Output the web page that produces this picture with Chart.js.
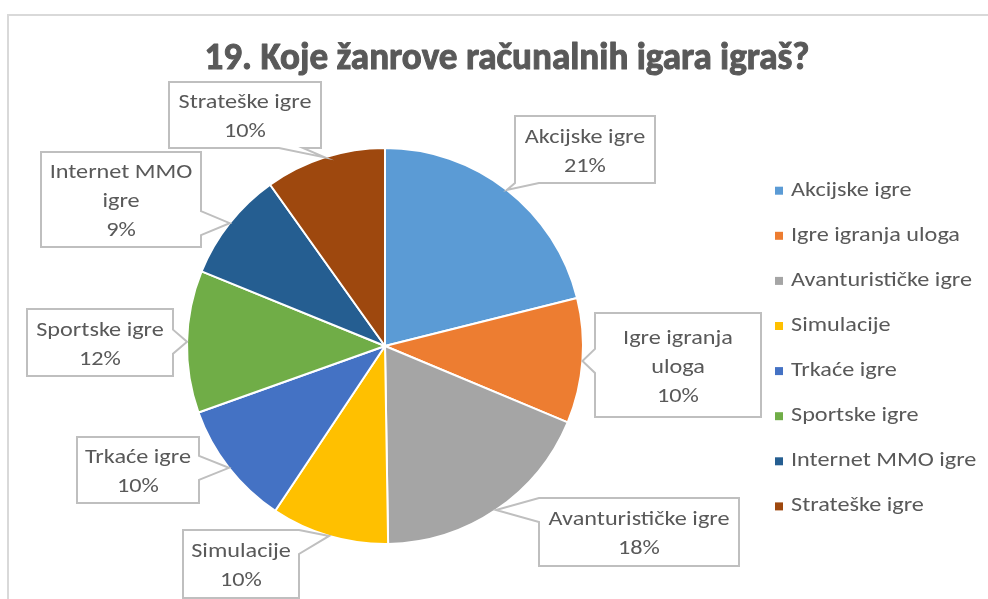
<!DOCTYPE html>
<html>
<head>
<meta charset="utf-8">
<script src="https://cdn.jsdelivr.net/npm/chart.js@4.4.1/dist/chart.umd.min.js"></script>
<style>
  html, body { margin: 0; padding: 0; background: #fff; }
  #wrap { width: 988px; height: 599px; position: relative; }
</style>
</head>
<body>
<div id="wrap"><canvas id="chart" width="988" height="599"></canvas></div>
<script>
// data
const chartTitle = '19. Koje žanrove računalnih igara igraš?';
const categories = ['Akcijske igre', 'Igre igranja uloga', 'Avanturističke igre', 'Simulacije',
                    'Trkaće igre', 'Sportske igre', 'Internet MMO igre', 'Strateške igre'];
const values = [21.1, 10.2, 18.45, 9.6, 10.2, 11.6, 9.0, 9.85];
const colors = ['#5B9BD5', '#ED7D31', '#A5A5A5', '#FFC000', '#4472C4', '#70AD47', '#255E91', '#9E480E'];
// how the callout text wraps inside each box
const calloutText = ['Akcijske igre', 'Igre igranja\nuloga', 'Avanturističke igre', 'Simulacije',
                     'Trkaće igre', 'Sportske igre', 'Internet MMO\nigre', 'Strateške igre'];
// callout boxes: x, y, w, h
const calloutBoxes = [
    [515, 116, 140, 67], [595, 313, 166, 104], [539, 498, 200, 68], [183, 530, 116, 68],
    [77, 437, 122, 66], [27, 309, 146, 67], [41, 152, 160, 95], [169, 82, 152, 66]
];

const FONT = 'Carlito, Lato, "Liberation Sans", sans-serif';
const TEXT_COLOR = '#595959';

function clamp(v, a, b) { return Math.max(a, Math.min(b, v)); }

function drawCallout(ctx, box, tip) {
    const [x, y, w, h] = box;
    const cx = x + w / 2, cy = y + h / 2;
    const rx = (tip.x - cx) / (w / 2), ry = (tip.y - cy) / (h / 2);
    const half = 12;
    let side = null;
    if (Math.abs(rx) > 1 || Math.abs(ry) > 1) {
        if (Math.abs(rx) > Math.abs(ry)) side = rx > 0 ? 'right' : 'left';
        else side = ry > 0 ? 'bottom' : 'top';
    }
    ctx.beginPath();
    ctx.moveTo(x, y);
    if (side === 'top') {
        const bx = clamp(tip.x, x + half, x + w - half);
        ctx.lineTo(bx - half, y); ctx.lineTo(tip.x, tip.y); ctx.lineTo(bx + half, y);
    }
    ctx.lineTo(x + w, y);
    if (side === 'right') {
        const by = clamp(tip.y, y + half, y + h - half);
        ctx.lineTo(x + w, by - half); ctx.lineTo(tip.x, tip.y); ctx.lineTo(x + w, by + half);
    }
    ctx.lineTo(x + w, y + h);
    if (side === 'bottom') {
        // Excel keeps the wedge base a bit inside the edge
        const bx = clamp(tip.x, x + half, x + w - 2.5 * half);
        ctx.lineTo(bx + half, y + h); ctx.lineTo(tip.x, tip.y); ctx.lineTo(bx - half, y + h);
    }
    ctx.lineTo(x, y + h);
    if (side === 'left') {
        const by = clamp(tip.y, y + half, y + h - half);
        ctx.lineTo(x, by + half); ctx.lineTo(tip.x, tip.y); ctx.lineTo(x, by - half);
    }
    ctx.closePath();
    ctx.fillStyle = '#fff';
    ctx.fill();
    ctx.lineWidth = 2;
    ctx.strokeStyle = '#bfbfbf';
    ctx.stroke();
}

function scaledText(ctx, text, x, y, sx, align, thicken) {
    const w = ctx.measureText(text).width * sx;
    let left = x;
    if (align === 'center') left = x - w / 2;
    ctx.save();
    ctx.translate(left, y);
    ctx.scale(sx, 1);
    ctx.textAlign = 'left';
    ctx.fillText(text, 0, 0);
    if (thicken) {
        ctx.strokeStyle = ctx.fillStyle;
        ctx.lineWidth = thicken;
        ctx.lineJoin = 'round';
        ctx.strokeText(text, 0, 0);
    }
    ctx.restore();
}

const decorPlugin = {
    id: 'decor',
    beforeDraw(chart) {
        const ctx = chart.ctx;
        ctx.save();
        ctx.strokeStyle = '#d9d9d9';
        ctx.lineWidth = 2;
        ctx.beginPath();
        ctx.moveTo(8, 600);
        ctx.lineTo(8, 15);
        ctx.lineTo(990, 15);
        ctx.stroke();
        ctx.restore();
    },
    afterDatasetsDraw(chart) {
        const ctx = chart.ctx;
        const meta = chart.getDatasetMeta(0);
        const total = values.reduce((a, b) => a + b, 0);
        ctx.save();
        ctx.textBaseline = 'alphabetic';

        // title, squeezed to the reference width
        ctx.font = 'bold 38px ' + FONT;
        ctx.fillStyle = TEXT_COLOR;
        const tsx = 605 / ctx.measureText(chartTitle).width;
        scaledText(ctx, chartTitle, 507, 69, tsx, 'center', 1);

        ctx.font = '21px ' + FONT;
        const sx = 181 / ctx.measureText('Avanturističke igre').width;

        // callouts
        meta.data.forEach((arc, i) => {
            const p = arc.getProps(['x', 'y', 'startAngle', 'endAngle', 'outerRadius'], true);
            const mid = (p.startAngle + p.endAngle) / 2;
            const tip = { x: p.x + Math.cos(mid) * p.outerRadius, y: p.y + Math.sin(mid) * p.outerRadius };
            const box = calloutBoxes[i];
            drawCallout(ctx, box, tip);
            const lines = calloutText[i].split('\n');
            lines.push(Math.round(values[i] / total * 100) + '%');
            const lh = 29;
            const cy = box[1] + box[3] / 2;
            ctx.fillStyle = TEXT_COLOR;
            ctx.font = '21px ' + FONT;
            lines.forEach((ln, k) => {
                const lc = cy + (k - (lines.length - 1) / 2) * lh;
                scaledText(ctx, ln, box[0] + box[2] / 2, lc + 7.5, sx, 'center');
            });
        });

        // legend
        categories.forEach((name, i) => {
            const base = 195.7 + i * 45.1;
            ctx.fillStyle = colors[i];
            ctx.fillRect(775, base - 9, 8, 8);
            ctx.fillStyle = TEXT_COLOR;
            scaledText(ctx, name, 791, base, sx, 'left');
        });
        ctx.restore();
    }
};

new Chart(document.getElementById('chart').getContext('2d'), {
    type: 'pie',
    data: {
        labels: categories,
        datasets: [{
            data: values,
            backgroundColor: colors,
            borderColor: '#ffffff',
            borderWidth: 2
        }]
    },
    plugins: [decorPlugin],
    options: {
        responsive: false,
        animation: false,
        layout: { padding: { left: 186, right: 404, top: 146, bottom: 53 } },
        plugins: {
            legend: { display: false },
            tooltip: { enabled: false }
        }
    }
});
</script>
</body>
</html>
